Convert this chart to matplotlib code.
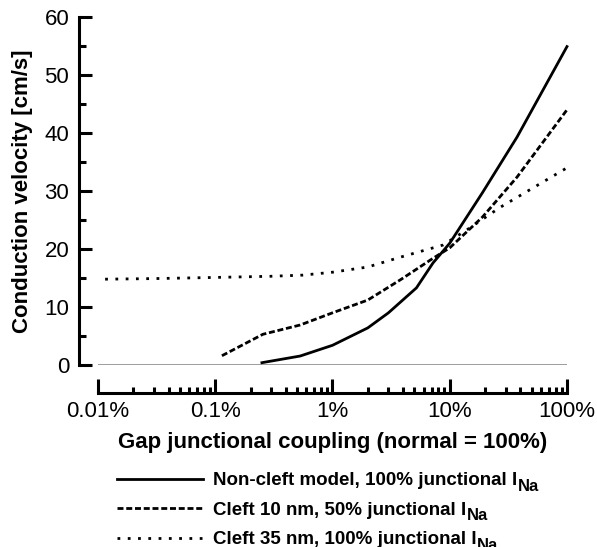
import matplotlib
matplotlib.use('Agg')
import matplotlib.pyplot as plt
from matplotlib.ticker import LogLocator, MultipleLocator, NullFormatter

plt.rcParams['font.family'] = ['Liberation Sans', 'DejaVu Sans']
plt.rcParams['lines.scale_dashes'] = False

# gap junctional coupling (% of normal) and conduction velocity (cm/s)
noncleft_x = [0.25, 0.53, 1.0, 2.0, 3.0, 5.2, 7.2, 10, 19, 37.5, 100]
noncleft_y = [0.4, 1.55, 3.4, 6.4, 9.0, 13.3, 17.6, 21.0, 29.7, 39.3, 54.9]

cleft10_x = [0.114, 0.255, 0.53, 1.0, 2.0, 3.8, 7.2, 10, 19, 37.5, 100]
cleft10_y = [1.6, 5.3, 6.9, 9.0, 11.2, 14.7, 18.4, 20.2, 25.5, 32.4, 44.0]

cleft35_x = [0.0115, 0.03, 0.1, 0.3, 0.56, 1.0, 2.0, 3.8, 8.8, 14, 27, 100]
cleft35_y = [14.8, 14.9, 15.1, 15.3, 15.5, 16.0, 16.9, 18.6, 20.7, 23.3, 27.2, 34.0]

xticks = [0.01, 0.1, 1, 10, 100]
xticklabels = ['0.01%', '0.1%', '1%', '10%', '100%']

labels = ['Non-cleft model, 100% junctional I',
          'Cleft 10 nm, 50% junctional I',
          'Cleft 35 nm, 100% junctional I']
subscript = 'Na'

fig = plt.figure(figsize=(5.97, 5.47), dpi=100)
ax = fig.add_axes([0.1642, 0.3327, 0.7855, 0.6362])

lw = 2.0
ax.plot(noncleft_x, noncleft_y, color='black', lw=lw, clip_on=False, label=labels[0])
ax.plot(cleft10_x, cleft10_y, color='black', lw=lw, clip_on=False,
        linestyle=(0, (4.3, 2.0)), dash_capstyle='butt', label=labels[1])
ax.plot(cleft35_x, cleft35_y, color='black', lw=lw, clip_on=False,
        linestyle=(0, (2.0, 5.4)), dash_capstyle='butt', label=labels[2])
ax.axhline(0, color='0.55', lw=1.2, zorder=1)

ax.set_xscale('log')
ax.set_xlim(0.01, 100)
ax.set_ylim(0, 60)

ax.spines['top'].set_visible(False)
ax.spines['right'].set_visible(False)
ax.spines['left'].set_position(('outward', 13.7))
ax.spines['bottom'].set_position(('outward', 20))
ax.spines['left'].set_bounds(0, 60)
for s in ['left', 'bottom']:
    ax.spines[s].set_linewidth(2.2)

ax.set_xticks(xticks, xticklabels)
ax.xaxis.set_minor_locator(LogLocator(base=10, subs=range(2, 10), numticks=20))
ax.xaxis.set_minor_formatter(NullFormatter())
ax.yaxis.set_major_locator(MultipleLocator(10))
ax.yaxis.set_minor_locator(MultipleLocator(5))

ax.tick_params(axis='both', which='major', direction='in', width=2.2, labelsize=16)
ax.tick_params(axis='both', which='minor', direction='in', width=2.2)
ax.tick_params(axis='x', which='major', length=10, pad=6)
ax.tick_params(axis='x', which='minor', length=4.5)
ax.tick_params(axis='y', which='major', length=9.5, pad=7)
ax.tick_params(axis='y', which='minor', length=5)

ax.set_ylabel('Conduction velocity [cm/s]', fontsize=16, fontweight='bold', labelpad=8)
ax.set_xlabel('Gap junctional coupling (normal = 100%)', fontsize=16, fontweight='bold', labelpad=7)

leg = ax.legend(loc='upper left', bbox_to_anchor=(117 / 597, 1 - 472 / 547),
                bbox_transform=fig.transFigure, frameon=False,
                prop={'weight': 'bold', 'size': 13.5}, handlelength=4.6,
                handletextpad=0.5, labelspacing=0.66, borderpad=0, borderaxespad=0)

# subscript "Na" after each legend entry (drawn after the legend)
for t in leg.get_texts():
    ax.annotate(subscript, xy=(1, 0), xycoords=t, xytext=(0.6, -1.2),
                textcoords='offset points', va='baseline', ha='left',
                fontsize=12, fontweight='bold', annotation_clip=False, zorder=10)

fig.savefig('out.png', dpi=100)
